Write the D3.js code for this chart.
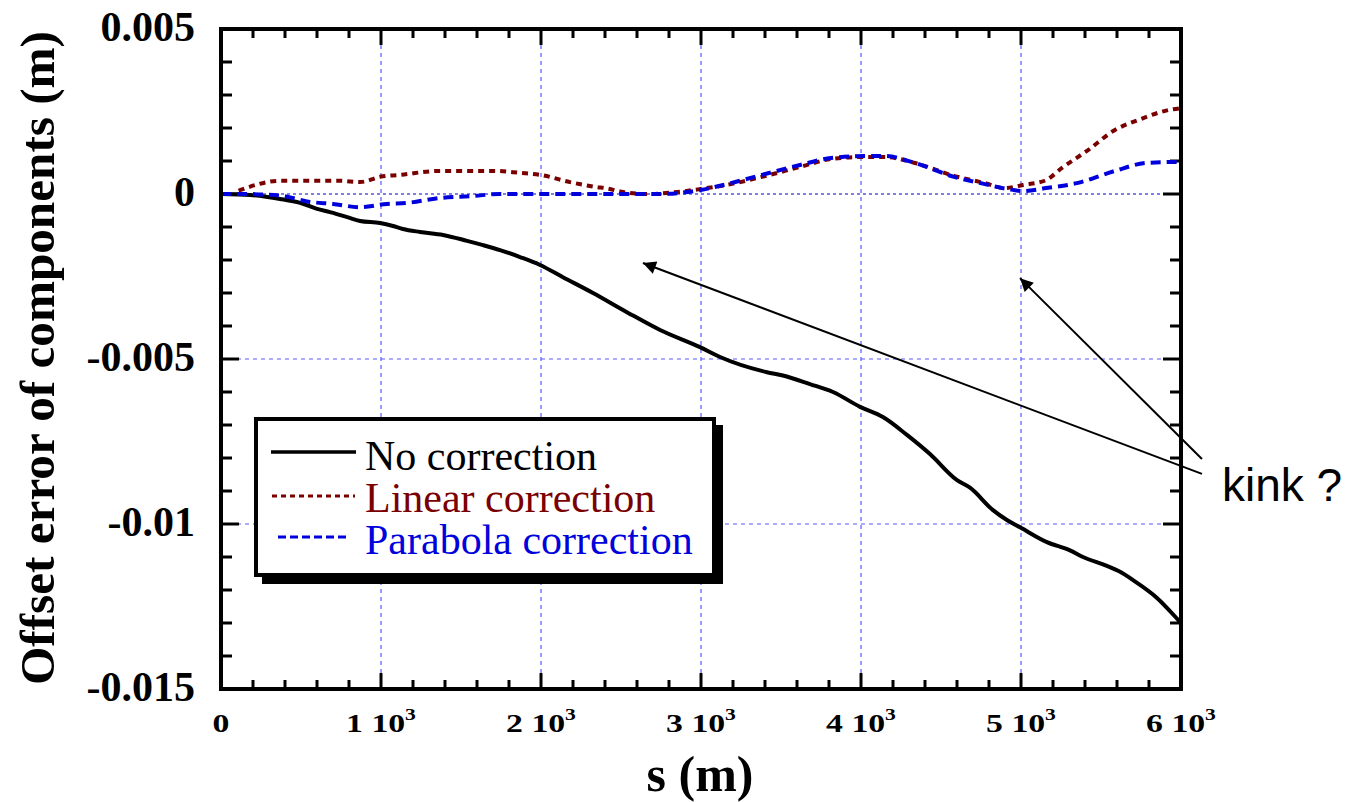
<!DOCTYPE html>
<html>
<head>
<meta charset="utf-8">
<script src="https://cdn.jsdelivr.net/npm/d3@7"></script>
<style>
  body { margin: 0; background: #fff; }
  svg { display: block; }
</style>
</head>
<body>
<div id="chart"></div>
<script>
// s (m) and offset (m)
const sNo = [0, 181, 369, 494, 600, 681, 788, 869, 994, 1075, 1137, 1244, 1388, 1538, 1638, 1744, 1869, 1994, 2137, 2325, 2537, 2744, 2994, 3119, 3412, 3512, 3681, 3825, 3994, 4137, 4287, 4431, 4600, 4681, 4825, 4912, 4994, 5162, 5306, 5387, 5537, 5619, 5700, 5850, 5981, 6000];
const noCorr = [0, -0.00003, -0.00015, -0.00027, -0.00045, -0.00055, -0.0007, -0.00082, -0.00088, -0.00097, -0.00106, -0.00115, -0.00124, -0.00142, -0.00155, -0.0017, -0.00191, -0.00215, -0.00252, -0.003, -0.00358, -0.00412, -0.00464, -0.00494, -0.0054, -0.0055, -0.00576, -0.006, -0.00645, -0.00676, -0.0073, -0.00788, -0.00867, -0.0089, -0.00958, -0.00988, -0.0101, -0.01055, -0.0108, -0.011, -0.01127, -0.01145, -0.0117, -0.01224, -0.0129, -0.0130];

const sLin = [110, 369, 494, 744, 869, 994, 1119, 1369, 1538, 1700, 1869, 1994, 2181, 2350, 2400, 2512, 2656, 2850, 2994, 3187, 3381, 3619, 3812, 4006, 4150, 4337, 4581, 4775, 4894, 5012, 5156, 5256, 5419, 5587, 5731, 5950, 6000];
const linCorr = [0.0001, 0.0004, 0.0004, 0.0004, 0.00036, 0.00052, 0.00058, 0.0007, 0.0007, 0.0007, 0.00064, 0.00058, 0.00036, 0.00021, 0.00018, 0.00006, 0, 0.00006, 0.00015, 0.0003, 0.00052, 0.00082, 0.00106, 0.00112, 0.00112, 0.00094, 0.00055, 0.00033, 0.00018, 0.00027, 0.00042, 0.00079, 0.00133, 0.00194, 0.00224, 0.00257, 0.0026];

const sPar = [0, 137, 369, 556, 700, 869, 1037, 1162, 1369, 1575, 1744, 1950, 2369, 2750, 2994, 3187, 3381, 3619, 3812, 4050, 4150, 4337, 4581, 4775, 4919, 5012, 5156, 5350, 5587, 5781, 5975, 6000];
const parCorr = [0, 0, -0.00005, -0.00024, -0.0003, -0.0004, -0.0003, -0.00027, -0.00012, -0.00006, 0, 0, 0, 0, 0.00012, 0.00033, 0.00058, 0.00088, 0.00109, 0.00115, 0.00115, 0.00094, 0.00052, 0.0003, 0.00015, 0.00009, 0.00018, 0.00033, 0.0007, 0.00094, 0.00097, 0.00097];

const xTicks = [0, 1000, 2000, 3000, 4000, 5000, 6000];
const xTickMant = ['0', '1 10', '2 10', '3 10', '4 10', '5 10', '6 10'];
const yTicks = [0.005, 0, -0.005, -0.01, -0.015];
const yTickLabels = ['0.005', '0', '-0.005', '-0.01', '-0.015'];
const seriesNames = ['No correction', 'Linear correction', 'Parabola correction'];

const W = 1347, H = 802;
const pL = 221, pR = 1181, pT = 29, pB = 689;

const svg = d3.select('#chart').append('svg')
  .attr('width', W).attr('height', H)
  .style('background', '#fff');

const x = d3.scaleLinear().domain([0, 6000]).range([pL, pR]);
const y = d3.scaleLinear().domain([-0.015, 0.005]).range([pB, pT]);

// grid
const gridV = [1000, 2000, 3000, 4000, 5000];
svg.append('g').selectAll('line').data(gridV).enter().append('line')
  .attr('x1', d => x(d)).attr('x2', d => x(d))
  .attr('y1', pT).attr('y2', pB)
  .attr('stroke', '#5a5aff').attr('stroke-width', 1.2)
  .attr('stroke-dasharray', '4,4');
svg.append('g').selectAll('line').data([-0.005, -0.01]).enter().append('line')
  .attr('x1', pL).attr('x2', pR)
  .attr('y1', d => y(d)).attr('y2', d => y(d))
  .attr('stroke', '#5a5aff').attr('stroke-width', 1.2)
  .attr('stroke-dasharray', '4,4');
svg.append('line')
  .attr('x1', pL).attr('x2', pR)
  .attr('y1', y(0)).attr('y2', y(0))
  .attr('stroke', '#0000cc').attr('stroke-width', 1)
  .attr('stroke-dasharray', '3,3');

// ticks (inward, all four sides)
const xMinor = d3.range(0, 6001, 200);
const yMinor = d3.range(-15, 6, 1).map(v => v / 1000);
const tk = svg.append('g').attr('stroke', '#000').attr('stroke-width', 3);
xMinor.forEach(v => {
  const len = v % 1000 === 0 ? 16 : 9;
  tk.append('line').attr('x1', x(v)).attr('x2', x(v)).attr('y1', pB).attr('y2', pB - len);
  tk.append('line').attr('x1', x(v)).attr('x2', x(v)).attr('y1', pT).attr('y2', pT + len);
});
yMinor.forEach(v => {
  const major = Math.round(v * 1000) % 5 === 0;
  const len = major ? 18 : 11;
  tk.append('line').attr('x1', pL).attr('x2', pL + len).attr('y1', y(v)).attr('y2', y(v));
  tk.append('line').attr('x1', pR).attr('x2', pR - len).attr('y1', y(v)).attr('y2', y(v));
});

// curves
const line = d3.line().x(d => x(d[0])).y(d => y(d[1])).curve(d3.curveMonotoneX);
const plot = svg.append('g');
plot.append('path').datum(d3.zip(sNo, noCorr))
  .attr('d', line).attr('fill', 'none')
  .attr('stroke', '#000').attr('stroke-width', 4);
plot.append('path').datum(d3.zip(sLin, linCorr))
  .attr('d', line).attr('fill', 'none')
  .attr('stroke', '#7a0000').attr('stroke-width', 4)
  .attr('stroke-dasharray', '6,5');
plot.append('path').datum(d3.zip(sPar, parCorr))
  .attr('d', line).attr('fill', 'none')
  .attr('stroke', '#0000dd').attr('stroke-width', 4)
  .attr('stroke-dasharray', '10,6');

// frame
svg.append('rect')
  .attr('x', pL).attr('y', pT)
  .attr('width', pR - pL).attr('height', pB - pT)
  .attr('fill', 'none').attr('stroke', '#000').attr('stroke-width', 4);

// tick labels
const serif = '"Liberation Serif", "Times New Roman", serif';
const xl = svg.append('g').attr('font-family', serif).attr('font-weight', 'bold')
  .attr('font-size', 25).attr('text-anchor', 'middle');
xTicks.forEach((v, i) => {
  const t = xl.append('text')
    .attr('transform', `translate(${x(v)},732) scale(1.35,1)`)
    .text(xTickMant[i]);
  if (v !== 0) t.append('tspan').attr('dy', -12).attr('font-size', 16).text('3');
});
svg.append('g').attr('font-family', serif).attr('font-weight', 'bold')
  .attr('font-size', 42).attr('text-anchor', 'end')
  .selectAll('text').data(yTicks).enter().append('text')
  .attr('x', 195).attr('y', d => y(d) + 12)
  .text((d, i) => yTickLabels[i]);

// axis titles
svg.append('text')
  .attr('x', 700).attr('y', 791)
  .attr('text-anchor', 'middle')
  .attr('font-family', serif).attr('font-weight', 'bold').attr('font-size', 50)
  .text('s (m)');
svg.append('text')
  .attr('transform', 'translate(54,358) rotate(-90)')
  .attr('text-anchor', 'middle')
  .attr('font-family', serif).attr('font-weight', 'bold').attr('font-size', 48)
  .attr('textLength', 654).attr('lengthAdjust', 'spacingAndGlyphs')
  .text('Offset error of components (m)');

// legend
const lg = svg.append('g');
lg.append('rect').attr('x', 262).attr('y', 425).attr('width', 461).attr('height', 159).attr('fill', '#000');
lg.append('rect').attr('x', 256).attr('y', 419).attr('width', 458).attr('height', 156)
  .attr('fill', '#fff').attr('stroke', '#000').attr('stroke-width', 4);
const legColors = ['#000', '#7a0000', '#0000dd'];
const legDash = [null, '5,4', '8,4'];
const legY = [452, 496, 537];
const legX1 = [271, 272, 278], legX2 = [356, 355, 348];
seriesNames.forEach((n, i) => {
  lg.append('line').attr('x1', legX1[i]).attr('x2', legX2[i])
    .attr('y1', legY[i]).attr('y2', legY[i])
    .attr('stroke', legColors[i]).attr('stroke-width', i === 0 ? 3.5 : 3)
    .attr('stroke-dasharray', legDash[i]);
  lg.append('text').attr('x', 365).attr('y', 470 + i * 42)
    .attr('font-family', serif).attr('font-size', 42)
    .attr('fill', legColors[i]).text(n);
});

// annotation: "kink ?" with two arrows
const defs = svg.append('defs');
defs.append('marker').attr('id', 'ah')
  .attr('viewBox', '0 0 10 10').attr('refX', 10).attr('refY', 5)
  .attr('markerWidth', 16).attr('markerHeight', 13)
  .attr('markerUnits', 'userSpaceOnUse').attr('orient', 'auto')
  .append('path').attr('d', 'M0,0 L10,5 L0,10 z').attr('fill', '#000');
const arrows = [
  { from: [6131, -0.00848], to: [2637, -0.00209] },
  { from: [6131, -0.00803], to: [4994, -0.00255] }
];
svg.append('g').selectAll('line').data(arrows).enter().append('line')
  .attr('x1', d => x(d.from[0])).attr('y1', d => y(d.from[1]))
  .attr('x2', d => x(d.to[0])).attr('y2', d => y(d.to[1]))
  .attr('stroke', '#000').attr('stroke-width', 2)
  .attr('marker-end', 'url(#ah)');
svg.append('text').attr('x', 1222).attr('y', 501)
  .attr('font-family', '"Liberation Sans", Arial, sans-serif').attr('font-size', 46)
  .text('kink ?');
</script>
</body>
</html>
